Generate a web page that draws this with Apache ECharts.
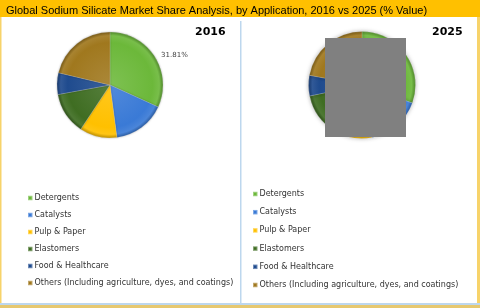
<!DOCTYPE html>
<html><head><meta charset="utf-8">
<script src="https://cdn.jsdelivr.net/npm/echarts@6/dist/echarts.min.js"></script>
<style>html,body{margin:0;padding:0;background:#fff}#c{width:480px;height:308px}</style>
</head><body><div id="c"></div>
<script>
const titleText = 'Global Sodium Silicate Market Share Analysis, by Application, 2016 vs 2025 (% Value)';
const categories = ['Detergents','Catalysts','Pulp & Paper','Elastomers','Food & Healthcare','Others (Including agriculture, dyes, and coatings)'];
const years = ['2016','2025'];
const values2016 = [31.81, 16.1, 11.4, 12.8, 6.6, 21.29];
const values2025 = [30.5, 16.5, 11.5, 13.2, 6.2, 22.1];
const colors = ['#6cb83a','#3a7ad6','#ffc000','#3f6d22','#1f4b8e','#a0781e'];

function mix(hex, t, target){
  const n=parseInt(hex.slice(1),16);
  let r=n>>16,g=(n>>8)&255,b=n&255;
  const tv=target?255:0;
  r=Math.round(r+(tv-r)*t);g=Math.round(g+(tv-g)*t);b=Math.round(b+(tv-b)*t);
  return 'rgb('+r+','+g+','+b+')';
}
function grad(c, cx, cy, r){
  return {type:'radial', x:cx, y:cy, r:r, global:true, colorStops:[
    {offset:0,color:mix(c,0.12,true)},{offset:0.8,color:c},{offset:0.93,color:mix(c,0.08,true)},{offset:1,color:mix(c,0.25,false)}]};
}
const pies=[{c:[110,85],r:53,vals:values2016},{c:[362,85],r:53.5,vals:values2025}];

const chart = echarts.init(document.getElementById('c'), null, {renderer:'canvas'});
const legendData = categories.map((n,i)=>({name:n, itemStyle:{color:colors[i]}}));
const legendCommon = {orient:'vertical', icon:'rect', itemWidth:4.5, itemHeight:4.5, selectedMode:false,
  textStyle:{fontFamily:'DejaVu Sans', fontSize:8, color:'#333', lineHeight:10, padding:[0,0,0,-3]}, data:legendData};

chart.setOption({
  backgroundColor:'#ffffff',
  animation:false,
  title:[
    {text:titleText, left:1, top:0, textStyle:{fontFamily:'Liberation Sans', fontSize:11, fontWeight:'normal', color:'#000'}},
    {text:years[0], left:190, top:22, textStyle:{fontFamily:'DejaVu Sans', fontSize:11, fontWeight:'bold', color:'#000'}},
    {text:years[1], left:427, top:22, textStyle:{fontFamily:'DejaVu Sans', fontSize:11, fontWeight:'bold', color:'#000'}}
  ],
  legend:[
    Object.assign({left:22, top:188, itemGap:7}, legendCommon),
    Object.assign({left:247, top:184, itemGap:8.2}, legendCommon)
  ],
  graphic:[
    {type:'rect', z:-10, shape:{x:0,y:0,width:480,height:17}, style:{fill:'#ffc000'}},
    {type:'rect', z:-10, shape:{x:0,y:17,width:1.5,height:291}, style:{fill:'#f7d36a'}},
    {type:'rect', z:-10, shape:{x:477,y:17,width:3,height:291}, style:{fill:'#f7d36a'}},
    {type:'rect', z:-10, shape:{x:0,y:303,width:480,height:2}, style:{fill:'#bdd7ee'}},
    {type:'rect', z:-10, shape:{x:0,y:305,width:480,height:3}, style:{fill:'#e6c870'}},
    {type:'rect', z:-10, shape:{x:240,y:21,width:1.5,height:282}, style:{fill:'#bdd7ee'}},
    {type:'rect', z:100, shape:{x:325,y:38,width:81,height:99}, style:{fill:'#808080'}}
  ],
  series: pies.map((p,k)=>({
    type:'pie', center:p.c, radius:[0,p.r], startAngle:90, clockwise:true,
    avoidLabelOverlap:false, silent:true,
    itemStyle:{borderColor:'rgba(255,255,255,0.35)', borderWidth:0.5, shadowBlur:k?4:2, shadowColor:'rgba(0,0,0,0.3)'},
    label:{show:false},
    labelLine:{show:false},
    data: categories.map((n,i)=>({
      name:n, value:p.vals[i],
      itemStyle:{color:grad(colors[i],p.c[0],p.c[1],p.r)},
      label:(k===0&&i===0)?{show:true, position:'outside', formatter:'{c}%', fontFamily:'DejaVu Sans', fontSize:7, color:'#404040', distanceToLabelLine:0, padding:[0,0,8,2]}:{show:false},
      labelLine:(k===0&&i===0)?{show:false, length:3, length2:2}:{show:false}
    }))
  }))
});
</script></body></html>
